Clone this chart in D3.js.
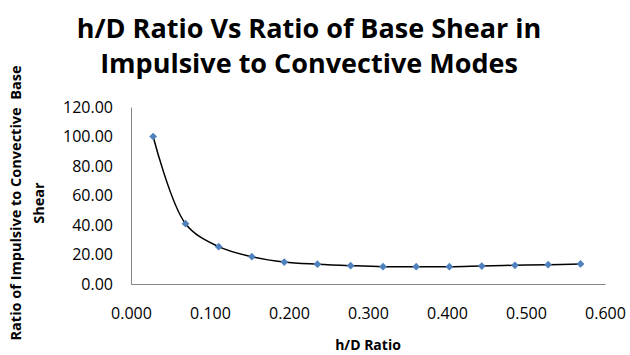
<!DOCTYPE html>
<html>
<head>
<meta charset="utf-8">
<script src="https://cdn.jsdelivr.net/npm/d3@7"></script>
<style>
  body { margin: 0; background: #fff; }
  svg { display: block; font-family: "Open Sans", "Noto Sans", sans-serif; }
</style>
</head>
<body>
<div id="chart"></div>
<script>
// h/D ratio vs ratio of impulsive to convective base shear
const hdRatio = [0.028, 0.069, 0.111, 0.153, 0.194, 0.236, 0.278, 0.319, 0.361, 0.403, 0.444, 0.486, 0.528, 0.569];
const shearRatio = [100.0, 40.9, 25.3, 18.5, 14.9, 13.4, 12.4, 11.7, 11.7, 11.7, 12.2, 12.7, 13.1, 13.6];
const xTicks = [0, 0.1, 0.2, 0.3, 0.4, 0.5, 0.6];
const yTicks = [0, 20, 40, 60, 80, 100, 120];
const titleLines = ["h/D Ratio Vs Ratio of Base Shear in", "Impulsive to Convective Modes"];
const yTitleLines = ["Ratio of Impulsive to Convective  Base", "Shear"];
const xTitle = "h/D Ratio";

const width = 630, height = 355;
const margin = { top: 107, right: 25, bottom: 71, left: 131 };

const svg = d3.select("#chart").append("svg")
  .attr("width", width)
  .attr("height", height);

const x = d3.scaleLinear().domain([0, 0.6]).range([margin.left, width - margin.right]);
const y = d3.scaleLinear().domain([0, 120]).range([height - margin.bottom, margin.top]);

// title
svg.append("g")
  .selectAll("text")
  .data(titleLines)
  .join("text")
  .attr("x", 309)
  .attr("y", (d, i) => 38 + i * 35)
  .attr("text-anchor", "middle")
  .attr("font-size", 27)
  .attr("font-weight", "bold")
  .attr("fill", "#000")
  .text((d) => d);

// axes
const gX = svg.append("g")
  .attr("transform", `translate(0,${height - margin.bottom})`)
  .call(d3.axisBottom(x).tickValues(xTicks).tickFormat(d3.format(".3f")).tickSize(0).tickPadding(24));

const gY = svg.append("g")
  .attr("transform", `translate(${margin.left},0)`)
  .call(d3.axisLeft(y).tickValues(yTicks).tickFormat(d3.format(".2f")).tickSize(0).tickPadding(18));

[gX, gY].forEach((g) => {
  g.select(".domain").attr("stroke", "#868686").attr("stroke-width", 1);
  g.selectAll(".tick text").attr("font-size", 16).attr("fill", "#000")
    .attr("font-family", "\"Open Sans\", sans-serif");
});

// axis titles
svg.append("text")
  .attr("x", 368)
  .attr("y", 350)
  .attr("text-anchor", "middle")
  .attr("font-size", 14)
  .attr("font-weight", "bold")
  .text(xTitle);

svg.append("g")
  .attr("transform", `translate(0,203)rotate(-90)`)
  .selectAll("text")
  .data(yTitleLines)
  .join("text")
  .attr("x", 0)
  .attr("y", (d, i) => 15 + i * 23)
  .attr("dominant-baseline", "central")
  .attr("text-anchor", "middle")
  .attr("font-size", 14.5)
  .attr("font-weight", "bold")
  .style("white-space", "pre")
  .text((d) => d);

// series
const points = hdRatio.map((d, i) => [d, shearRatio[i]]);

const line = d3.line()
  .x((d) => x(d[0]))
  .y((d) => y(d[1]))
  .curve(d3.curveCatmullRom.alpha(0.5));

svg.append("path")
  .datum(points)
  .attr("fill", "none")
  .attr("stroke", "#000")
  .attr("stroke-width", 1.5)
  .attr("d", line);

svg.append("g")
  .selectAll("path")
  .data(points)
  .join("path")
  .attr("transform", (d) => `translate(${x(d[0])},${y(d[1])})rotate(45)`)
  .attr("d", d3.symbol(d3.symbolSquare, 30))
  .attr("fill", "#4F81BD");
</script>
</body>
</html>
